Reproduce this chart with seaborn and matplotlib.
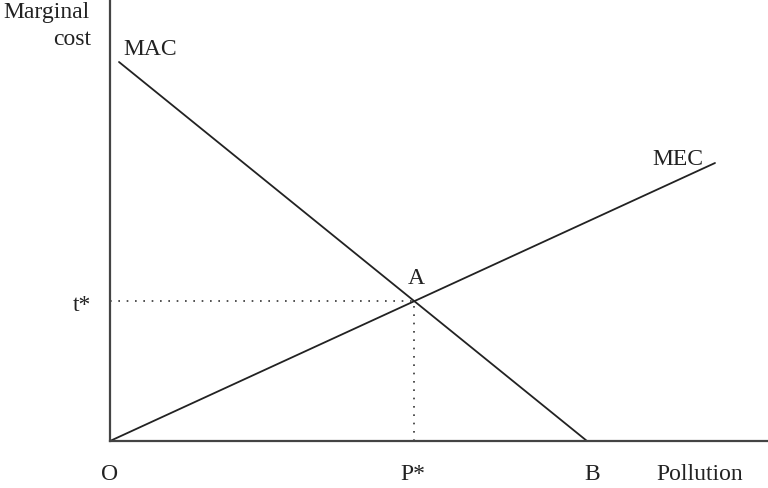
import matplotlib
matplotlib.use("Agg")
import matplotlib.pyplot as plt
import seaborn as sns
import pandas as pd

# Data (in chart units, origin at O)
mac_x = [9, 477]
mac_y = [379, 0]
mec_x = [0, 605]
mec_y = [0, 278]
p_star = 304
t_star = 140
b_point = 477

sns.set_theme(style="white")
plt.rcParams['font.family'] = ['Liberation Serif', 'DejaVu Serif']

fig = plt.figure(figsize=(7.68, 4.89), dpi=100)
ax = fig.add_axes([110/768, 47/489, 658/768, 442/489])

mac = pd.DataFrame({"x": mac_x, "y": mac_y})
mec = pd.DataFrame({"x": mec_x, "y": mec_y})
sns.lineplot(data=mac, x="x", y="y", ax=ax, color="#222222", linewidth=1.3)
sns.lineplot(data=mec, x="x", y="y", ax=ax, color="#222222", linewidth=1.3)

ax.plot([0, p_star], [t_star, t_star], linestyle=(0, (1, 4)), color="#333333", linewidth=1.2)
ax.plot([p_star, p_star], [0, t_star], linestyle=(0, (1, 4)), color="#333333", linewidth=1.2)

ax.set_xlim(0, 658)
ax.set_ylim(0, 442)
ax.set_xticks([])
ax.set_yticks([])
ax.set_xlabel("")
ax.set_ylabel("")
for s in ["top", "right"]:
    ax.spines[s].set_visible(False)
for s in ["left", "bottom"]:
    ax.spines[s].set_color("#444444")
    ax.spines[s].set_linewidth(1.6)

fs = 17
txt = dict(fontsize=fs, color="#222222", clip_on=False)
ax.text(-20, 442 - 13, "Marginal", ha="right", va="center", **txt)
ax.text(-19, 442 - 40, "cost", ha="right", va="center", **txt)
ax.text(40, 442 - 50, "MAC", ha="center", va="center", **txt)
ax.text(568, 442 - 160, "MEC", ha="center", va="center", **txt)
ax.text(p_star + 2, t_star + 23, "A", ha="center", va="center", **txt)
ax.text(-28, t_star - 4, "t*", ha="center", va="center", **txt)
ax.text(0, -33, "O", ha="center", va="center", **txt)
ax.text(p_star - 1, -33, "P*", ha="center", va="center", **txt)
ax.text(b_point + 5, -33, "B", ha="center", va="center", **txt)
ax.text(590, -33, "Pollution", ha="center", va="center", **txt)

fig.savefig("out.png", dpi=100)
